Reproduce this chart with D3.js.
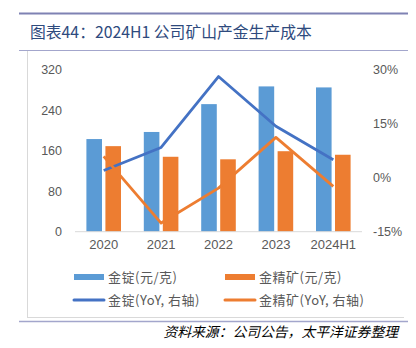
<!DOCTYPE html>
<html><head><meta charset="utf-8">
<script src="https://cdn.jsdelivr.net/npm/d3@7"></script>
<style>body{margin:0;background:#fff}svg{display:block}</style>
</head><body>
<svg id="c" width="416" height="348"></svg>
<script>
const categories = ["2020","2021","2022","2023","2024H1"];
const ingotCost = [183, 197, 252, 287, 285];
const concCost = [169, 148, 143, 159, 152];
const ingotYoY = [2.0, 8.4, 28.1, 14.3, 5.0];
const concYoY = [5.9, -12.6, -2.9, 11.2, -2.4];
const leftTicks = [0, 80, 160, 240, 320];
const rightTicks = [-15, 0, 15, 30];
const title = "图表44：2024H1 公司矿山产金生产成本";
const source = "资料来源：公司公告，太平洋证券整理";
const legendLabels = ["金锭(元/克)","金精矿(元/克)","金锭(YoY, 右轴)","金精矿(YoY, 右轴)"];

const svg = d3.select("#c");
const font = "'Noto Sans CJK SC', sans-serif";
const c1 = "#5B9BD5", c2 = "#ED7D31", c3 = "#4472C4", c4 = "#ED7D31";

// frame
svg.append("line").attr("x1",19).attr("x2",408).attr("y1",13.5).attr("y2",13.5).attr("stroke","#7F82B3").attr("stroke-width",2);
svg.append("line").attr("x1",19).attr("x2",408).attr("y1",50.5).attr("y2",50.5).attr("stroke","#A3A6CC").attr("stroke-width",1);
svg.append("line").attr("x1",27.5).attr("x2",27.5).attr("y1",51).attr("y2",318).attr("stroke","#D9D9D9");
svg.append("line").attr("x1",27).attr("x2",404).attr("y1",317.5).attr("y2",317.5).attr("stroke","#D9D9D9");
svg.append("line").attr("x1",19).attr("x2",408).attr("y1",321.5).attr("y2",321.5).attr("stroke","#A3A6CC").attr("stroke-width",1.5);

svg.append("text").attr("x",30).attr("y",38).attr("font-family",font).attr("font-size",15.8)
  .attr("fill","#2E4A7D").text(title);
svg.append("text").attr("x",398).attr("y",337).attr("text-anchor","end").attr("font-family",font)
  .attr("font-size",13.8).attr("font-style","italic").attr("fill","#000").text(source);

const x0 = d3.scaleBand().domain(categories).range([75,362]);
const x1 = d3.scaleBand().domain([0,1]).range([0,x0.bandwidth()]).paddingInner(0.18).paddingOuter(0.6);
const yL = d3.scaleLinear().domain([0,320]).range([231.7,69.7]);
const yR = d3.scaleLinear().domain([-15,30]).range([231.7,69.7]);

const tf = "'Liberation Sans', Arial, sans-serif";
const gL = svg.append("g").attr("transform","translate(62,0)")
  .call(d3.axisLeft(yL).tickValues(leftTicks).tickSize(0).tickPadding(0));
const gR = svg.append("g").attr("transform","translate(373,0)")
  .call(d3.axisRight(yR).tickValues(rightTicks).tickSize(0).tickPadding(0).tickFormat(d=>d+"%"));
const gX = svg.append("g").attr("transform","translate(0,231.7)")
  .call(d3.axisBottom(x0).tickSize(0).tickPadding(8));
[gL,gR,gX].forEach(g=>{g.select(".domain").remove();
  g.selectAll("text").attr("font-family",tf).attr("font-size",12.5).attr("fill","#595959");});
gX.selectAll("text").attr("font-size",13);

// bars
const series = [ingotCost, concCost];
const colors = [c1,c2];
series.forEach((vals,si)=>{
  svg.append("g").selectAll("rect").data(vals).join("rect")
    .attr("x",(d,i)=>x0(categories[i])+x1(si))
    .attr("width",x1.bandwidth())
    .attr("y",d=>yL(d)).attr("height",d=>yL(0)-yL(d)).attr("fill",colors[si]);
});
svg.append("line").attr("x1",75).attr("x2",362).attr("y1",231.7).attr("y2",231.7).attr("stroke","#D9D9D9");

const line = d3.line().x((d,i)=>x0(categories[i])+x0.bandwidth()/2).y(d=>yR(d));
svg.append("path").datum(ingotYoY).attr("d",line).attr("fill","none").attr("stroke",c3).attr("stroke-width",2.8).attr("stroke-linejoin","round");
svg.append("path").datum(concYoY).attr("d",line).attr("fill","none").attr("stroke",c4).attr("stroke-width",2.8).attr("stroke-linejoin","round");

// legend
const lg = [
  {x:74,y:277,c:c1,t:"rect",l:legendLabels[0]},
  {x:225,y:277,c:c2,t:"rect",l:legendLabels[1]},
  {x:74,y:300,c:c3,t:"line",l:legendLabels[2]},
  {x:225,y:300,c:c4,t:"line",l:legendLabels[3]}];
lg.forEach(d=>{
  if(d.t==="rect") svg.append("rect").attr("x",d.x).attr("y",d.y-3).attr("width",30).attr("height",6).attr("fill",d.c);
  else svg.append("line").attr("x1",d.x).attr("x2",d.x+30).attr("y1",d.y).attr("y2",d.y).attr("stroke",d.c).attr("stroke-width",3).attr("stroke-linecap","round");
  svg.append("text").attr("x",d.x+34).attr("y",d.y+5).attr("font-family",font).attr("font-size",13)
    .attr("letter-spacing",0.5).attr("fill","#595959").text(d.l);
});
</script>
</body></html>
